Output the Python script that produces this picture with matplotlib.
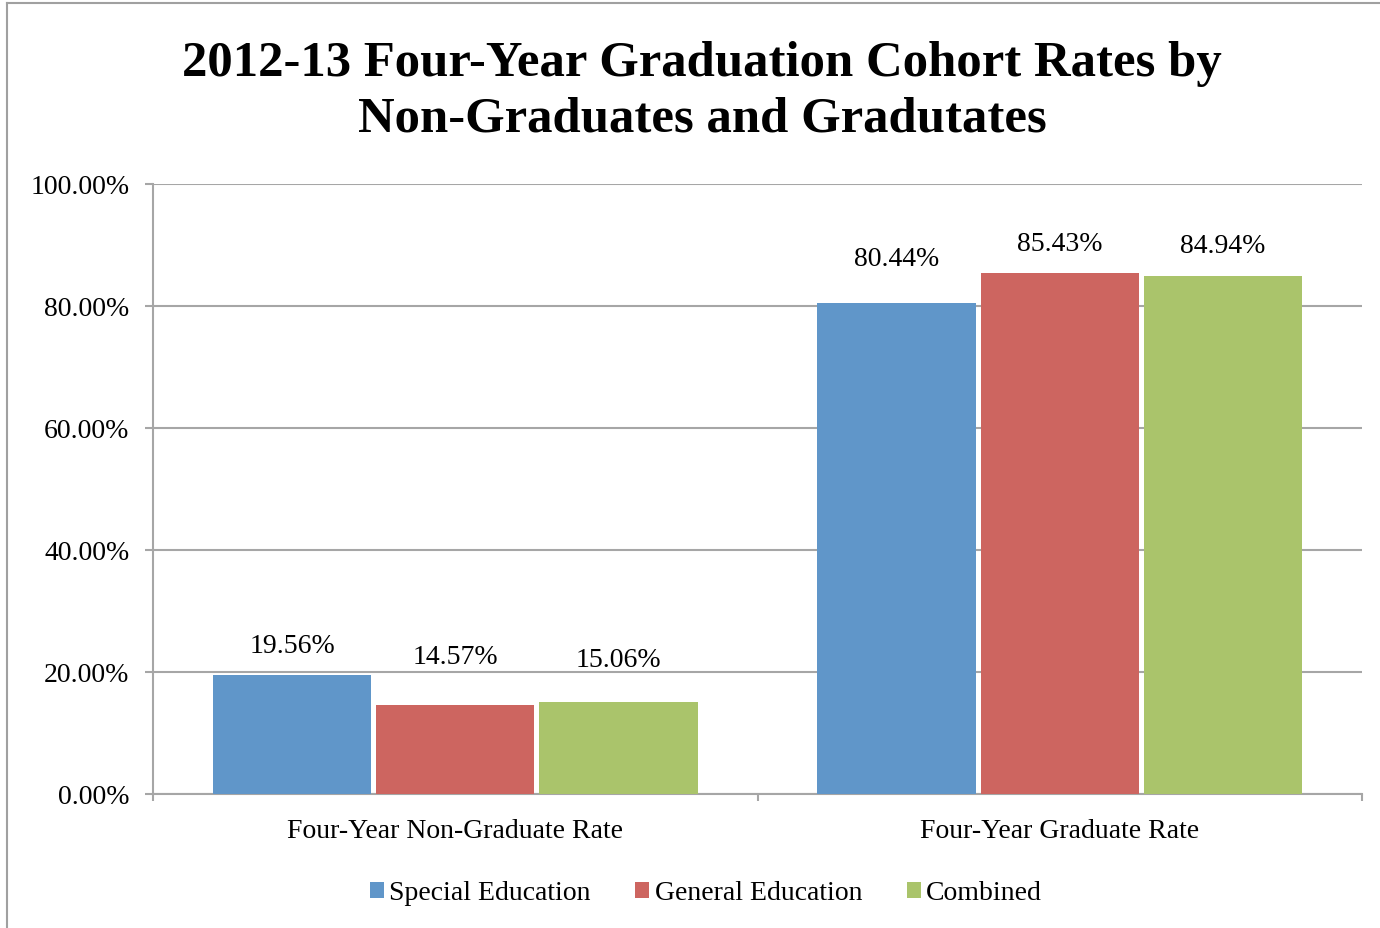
import matplotlib
matplotlib.use("Agg")
import matplotlib.pyplot as plt
import numpy as np
from matplotlib.lines import Line2D

plt.rcParams['font.family'] = ['Liberation Serif', 'DejaVu Serif']

categories = ["Four-Year Non-Graduate Rate", "Four-Year Graduate Rate"]
series = ["Special Education", "General Education", "Combined"]
special_ed = [19.56, 80.44]
general_ed = [14.57, 85.43]
combined = [15.06, 84.94]
colors = ["#6096c9", "#cd6560", "#aac46b"]
yticks = [0, 20, 40, 60, 80, 100]
# label lift above each bar, in points (series x category)
label_lift = [[21, 32], [35, 21], [31, 22]]

W, H = 1380, 929
fig = plt.figure(figsize=(W / 100, H / 100), dpi=100)
ax = fig.add_axes([153 / W, 1 - 795 / H, (1362 - 153) / W, (795 - 185) / H])

x = np.arange(len(categories))
width = 0.262
step = 0.27
for i, (vals, name) in enumerate(zip([special_ed, general_ed, combined], series)):
    pos = x + (i - 1) * step
    ax.bar(pos, vals, width, color=colors[i], label=name, zorder=3)
    for j, (px, v) in enumerate(zip(pos, vals)):
        ax.annotate("%.2f%%" % v, (px, v), xytext=(0, label_lift[i][j]), textcoords="offset points",
                    ha="center", va="center", fontsize=20)

ax.set_xlim(-0.5, 1.5)
ax.set_ylim(0, 100)
ax.set_yticks(yticks)
ax.set_yticklabels(["%.2f%%" % t for t in yticks], fontsize=20)
ax.yaxis.grid(True, color="#a6a6a6", lw=1.5, zorder=0)
ax.tick_params(axis="y", length=6, width=1.5, color="#a6a6a6", pad=11)
ax.set_xticks([-0.5, 0.5, 1.5])
ax.set_xticklabels([])
ax.set_xticks(x, minor=True)
ax.set_xticklabels(categories, minor=True, fontsize=20)
ax.tick_params(axis="x", which="major", length=5, width=1.5, color="#a6a6a6", direction="out")
ax.tick_params(axis="x", which="minor", length=0, pad=17)
for s in ["top", "right"]:
    ax.spines[s].set_visible(False)
ax.spines["left"].set_color("#a6a6a6")
ax.spines["bottom"].set_color("#a6a6a6")
ax.spines["left"].set_linewidth(1.5)
ax.spines["bottom"].set_linewidth(1.5)

fig.text(702 / W, 1 - 92 / H, "2012-13 Four-Year Graduation Cohort Rates by\nNon-Graduates and Gradutates",
         ha="center", va="center", fontsize=36.5, fontweight="bold", linespacing=1.26)

fig.legend(loc="center", bbox_to_anchor=(706 / W, 1 - 894 / H), ncol=3, frameon=False,
           fontsize=20, handlelength=0.5, handleheight=0.5, handletextpad=0.2, columnspacing=1.6)

# chart frame
fig.add_artist(Line2D([7 / W, 7 / W], [0, 1 - 4 / H], color="#a0a0a0", lw=1.5))
fig.add_artist(Line2D([7 / W, 1], [1 - 4 / H, 1 - 4 / H], color="#a0a0a0", lw=1.5))

fig.savefig("out.png", dpi=100)
